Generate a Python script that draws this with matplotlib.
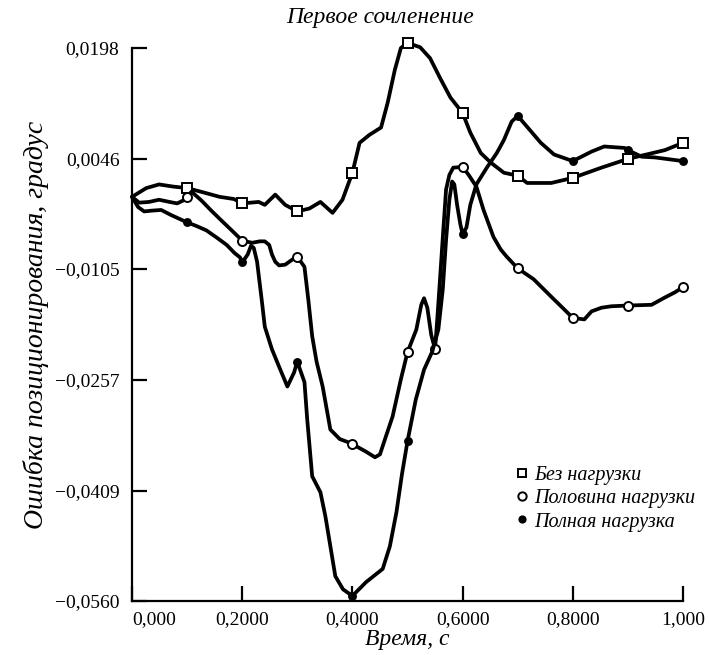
import numpy as np
import matplotlib.pyplot as plt
from matplotlib.lines import Line2D

# Без нагрузки (квадраты)
t_none = [0.0, 0.026, 0.049, 0.075, 0.1, 0.130, 0.159, 0.185, 0.2, 0.230, 0.241, 0.260,
          0.278, 0.3, 0.322, 0.342, 0.364, 0.382, 0.4, 0.413, 0.431, 0.452, 0.464, 0.477,
          0.488, 0.5, 0.523, 0.541, 0.559, 0.578, 0.6, 0.614, 0.633, 0.651, 0.675, 0.7,
          0.717, 0.761, 0.8, 0.852, 0.9, 0.967, 1.0]
e_none = [-0.0006, 0.0006, 0.0011, 0.0008, 0.0006, 0.0000, -0.0006, -0.0009, -0.0015, -0.0013,
          -0.0017, -0.0003, -0.0017, -0.0026, -0.0022, -0.0013, -0.0028, -0.0010, 0.0027, 0.0068,
          0.0079, 0.0089, 0.0123, 0.0168, 0.0198, 0.0205, 0.0199, 0.0184, 0.0157, 0.0130,
          0.0109, 0.0082, 0.0054, 0.0041, 0.0027, 0.0023, 0.0013, 0.0013, 0.0020, 0.0034,
          0.0046, 0.0058, 0.0068]
mk_none = [0.1, 0.2, 0.3, 0.4, 0.5, 0.6, 0.7, 0.8, 0.9, 1.0]

# Половина нагрузки (светлые кружки)
t_half = [0.0, 0.013, 0.031, 0.049, 0.068, 0.082, 0.093, 0.1, 0.108, 0.126, 0.144, 0.163,
          0.181, 0.2, 0.218, 0.232, 0.241, 0.249, 0.254, 0.260, 0.267, 0.278, 0.291, 0.3,
          0.313, 0.320, 0.327, 0.335, 0.346, 0.360, 0.377, 0.391, 0.4, 0.424, 0.441, 0.450,
          0.461, 0.473, 0.488, 0.5, 0.516, 0.525, 0.530, 0.536, 0.543, 0.55, 0.554, 0.559,
          0.565, 0.570, 0.576, 0.583, 0.6, 0.611, 0.625, 0.638, 0.656, 0.669, 0.680, 0.7,
          0.729, 0.761, 0.784, 0.8, 0.821, 0.834, 0.852, 0.870, 0.9, 0.943, 0.967, 0.985, 1.0]
e_half = [-0.0006, -0.0014, -0.0013, -0.0010, -0.0013, -0.0015, -0.0011, -0.0006, 0.0001,
          -0.0011, -0.0025, -0.0039, -0.0052, -0.0066, -0.0069, -0.0067, -0.0067, -0.0072,
          -0.0085, -0.0095, -0.0100, -0.0099, -0.0092, -0.0088, -0.0102, -0.0147, -0.0197,
          -0.0232, -0.0266, -0.0325, -0.0338, -0.0342, -0.0345, -0.0355, -0.0363, -0.0359,
          -0.0334, -0.0307, -0.0256, -0.0219, -0.0188, -0.0154, -0.0145, -0.0158, -0.0195,
          -0.0215, -0.0174, -0.0119, -0.0051, 0.0004, 0.0024, 0.0034, 0.0035, 0.0024, 0.0008,
          -0.0024, -0.0061, -0.0078, -0.0088, -0.0104, -0.0119, -0.0143, -0.0160, -0.0172,
          -0.0174, -0.0163, -0.0158, -0.0156, -0.0155, -0.0154, -0.0144, -0.0137, -0.0130]
mk_half = [0.1, 0.2, 0.3, 0.4, 0.5, 0.55, 0.6, 0.7, 0.8, 0.9, 1.0]

# Полная нагрузка (тёмные кружки)
t_full = [0.0, 0.011, 0.022, 0.035, 0.053, 0.071, 0.1, 0.117, 0.135, 0.154, 0.172, 0.186,
          0.196, 0.2, 0.210, 0.216, 0.221, 0.227, 0.232, 0.236, 0.241, 0.254, 0.267, 0.282,
          0.294, 0.3, 0.313, 0.318, 0.327, 0.342, 0.351, 0.360, 0.369, 0.383, 0.4, 0.425,
          0.455, 0.468, 0.480, 0.490, 0.5, 0.515, 0.530, 0.545, 0.556, 0.564, 0.570, 0.576,
          0.581, 0.585, 0.590, 0.596, 0.6, 0.607, 0.614, 0.625, 0.644, 0.662, 0.675, 0.689,
          0.7, 0.717, 0.742, 0.766, 0.8, 0.834, 0.857, 0.894, 0.9, 0.925, 0.949, 1.0]
e_full = [-0.0006, -0.0020, -0.0026, -0.0025, -0.0024, -0.0031, -0.0041, -0.0046, -0.0052,
          -0.0062, -0.0072, -0.0083, -0.0089, -0.0096, -0.0085, -0.0073, -0.0076, -0.0095,
          -0.0126, -0.0151, -0.0184, -0.0215, -0.0239, -0.0266, -0.0247, -0.0232, -0.0260,
          -0.0311, -0.0389, -0.0411, -0.0444, -0.0485, -0.0526, -0.0544, -0.0553, -0.0534,
          -0.0516, -0.0485, -0.0438, -0.0386, -0.0341, -0.0284, -0.0243, -0.0218, -0.0188,
          -0.0133, -0.0065, -0.0010, 0.0015, 0.0011, -0.0017, -0.0044, -0.0057, -0.0048,
          -0.0017, 0.0011, 0.0034, 0.0054, 0.0072, 0.0097, 0.0105, 0.0090, 0.0068, 0.0052,
          0.0043, 0.0056, 0.0063, 0.0061, 0.0058, 0.0049, 0.0048, 0.0043]
mk_full = [0.1, 0.2, 0.3, 0.4, 0.5, 0.6, 0.7, 0.8, 0.9, 1.0]

labels = ['Без нагрузки', 'Половина нагрузки', 'Полная нагрузка']
xticks = [0.0, 0.2, 0.4, 0.6, 0.8, 1.0]
xticklabels = ['0,000', '0,2000', '0,4000', '0,6000', '0,8000', '1,000']
yticks = [0.0198, 0.0046, -0.0105, -0.0257, -0.0409, -0.0560]
yticklabels = ['0,0198', '0,0046', '\u22120,0105', '\u22120,0257', '\u22120,0409', '\u22120,0560']

serif = 'Liberation Serif'

fig = plt.figure(figsize=(7.09, 6.55), dpi=100)
ax = fig.add_axes([132 / 709, 1 - 601 / 655, 551 / 709, 553 / 655])

styles = [dict(marker='s', ms=6.5, mfc='white'),
          dict(marker='o', ms=6.5, mfc='white'),
          dict(marker='o', ms=5, mfc='black')]
series = [(t_none, e_none, mk_none), (t_half, e_half, mk_half), (t_full, e_full, mk_full)]

for (t, e, mk), st in zip(series, styles):
    t = np.asarray(t)
    idx = [int(np.argmin(np.abs(t - m))) for m in mk]
    ax.plot(t, e, color='black', lw=2.7, solid_joinstyle='round', solid_capstyle='round',
            marker=st['marker'], ms=st['ms'], mfc=st['mfc'], mec='black', mew=1.4,
            markevery=idx, zorder=3, clip_on=False)

ax.set_xlim(0, 1.0)
ax.set_ylim(-0.0560, 0.0198)
for s in ['top', 'right']:
    ax.spines[s].set_visible(False)
for s in ['left', 'bottom']:
    ax.spines[s].set_linewidth(1.6)

ax.set_xticks(xticks)
ax.set_xticklabels(xticklabels, fontfamily=serif, fontsize=14)
ax.xaxis.get_ticklabels()[0].set_horizontalalignment('left')
ax.set_yticks(yticks)
ax.set_yticklabels(yticklabels, fontfamily=serif, fontsize=14)
ax.tick_params(direction='in', length=11, width=1.6, colors='black')
ax.tick_params(axis='x', pad=7)
ax.tick_params(axis='y', pad=9)

ax.set_title('Первое сочленение', fontfamily=serif, style='italic', fontsize=17, pad=18,
             x=0.45)
ax.set_xlabel('Время, с', fontfamily=serif, style='italic', fontsize=17, labelpad=1)
ax.set_ylabel('Ошибка позиционирования, градус', fontfamily=serif, style='italic',
              fontsize=20, labelpad=4)

handles = [Line2D([], [], ls='none', marker=st['marker'], ms=st['ms'] - 0.5, mfc=st['mfc'],
                  mec='black', mew=1.4) for st in styles]
ax.legend(handles, labels, loc='upper left', bbox_to_anchor=(0.68, 0.262), frameon=False,
          handlelength=0.5, handletextpad=0.35, labelspacing=0.2, borderpad=0,
          prop={'family': serif, 'style': 'italic', 'size': 14.5})

fig.savefig('out.png', dpi=100)
